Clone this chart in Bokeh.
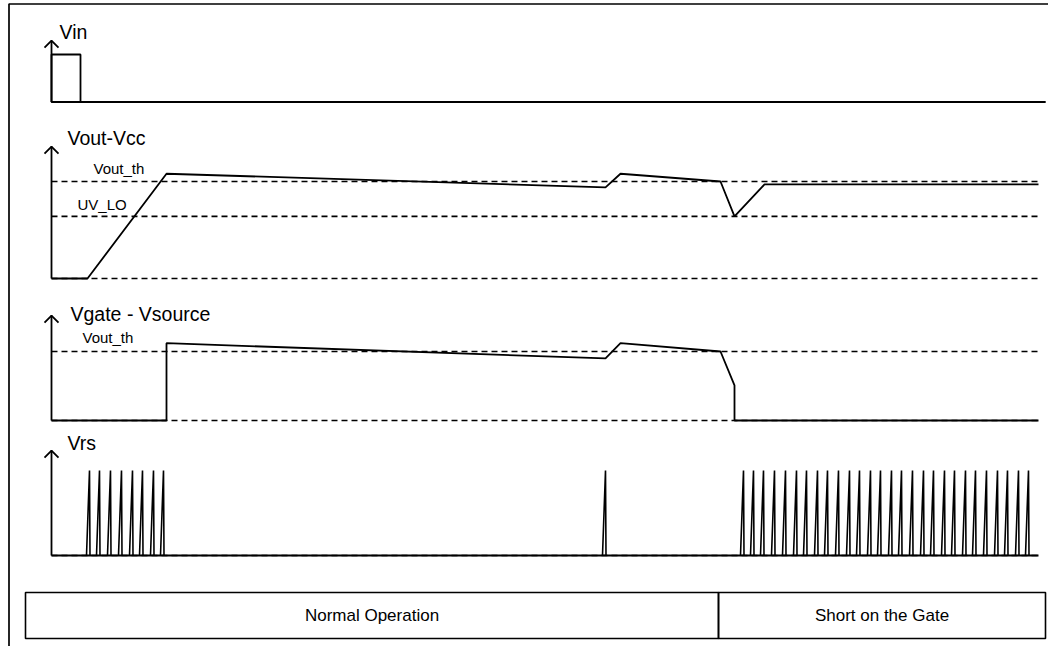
from bokeh.plotting import figure
from bokeh.models import Range1d
from bokeh.core.properties import value
from bokeh.embed import file_html
from bokeh.resources import INLINE

# ---------------- data (time units; levels relative to each panel's threshold) ----------------
vin_t = [29, 0, 0, 29, 29, 994]
vin_v = [0, 0, 1, 1, 0, 0]

vout_t = [0, 36, 115, 554, 569, 669, 683, 713, 987]
vout_v = [0, 0, 1.08, 0.94, 1.08, 1.0, 0.64, 0.97, 0.97]
vout_levels = [0, 0.64, 1.0]

vgate_t = [0, 115, 115, 554, 569, 669, 683, 683, 987]
vgate_v = [0, 0, 1.12, 0.90, 1.12, 1.0, 0.51, 0, 0]
vgate_levels = [0, 1.0]

vrs_spikes = [38, 48, 59, 70, 81, 91, 102, 112,
              554,
              692, 702, 712, 723, 734, 745, 755, 766, 776, 787, 798, 808,
              819, 829, 840, 850, 861, 872, 882, 893, 903, 914, 924, 935,
              946, 956, 967, 977]
vrs_peak = 1.0
t_end = 987

signal_names = ["Vin", "Vout-Vcc", "Vgate - Vsource", "Vrs"]
level_labels = ["Vout_th", "UV_LO", "Vout_th"]

phases = ["Normal Operation", "Short on the Gate"]
phase_start = [-26, 667]
phase_end = [667, 994]

# ---------------- layout ----------------
W, H = 1048, 646
OFF = 0            # observed page offset of the figure
X0 = 51            # pixel of t = 0
# panel: (baseline pixel, pixels per unit, arrow top in units)
PANELS = {
    "vin": (101.5, 47.5, 1.29),
    "vout": (278, 97, 1.36),
    "vgate": (420, 69, 1.52),
    "vrs": (555, 85, 1.235),
}

p = figure(width=W, height=H, output_backend="svg", toolbar_location=None,
           x_axis_type=None, y_axis_type=None, min_border=0,
           x_range=Range1d(OFF - X0, OFF + W - X0),
           y_range=Range1d(OFF + H, OFF))
p.outline_line_color = None
p.background_fill_color = "white"
p.grid.visible = False

for k, (b, s, top) in PANELS.items():
    p.extra_y_ranges[k] = Range1d((b - (OFF + H)) / s, (b - OFF) / s)

LW = 1.8
DASH = "6 4"

def arrow(k):
    b, s, top = PANELS[k]
    p.line([0, 0], [0, top], y_range_name=k, line_color="black", line_width=LW)
    hw = 7.0
    hh = 7.0 / s
    p.line([-hw, 0, hw], [top - hh, top, top - hh], y_range_name=k,
           line_color="black", line_width=LW)

def dashed(k, levels, end):
    for lv in levels:
        p.line([0, end], [lv, lv], y_range_name=k, line_color="black",
               line_width=1.7, line_dash=DASH)

# Vin
arrow("vin")
dashed("vin", [0], 994)
p.line(vin_t, vin_v, y_range_name="vin", line_color="black", line_width=LW)

# Vout-Vcc
arrow("vout")
dashed("vout", vout_levels, t_end)
p.line(vout_t, vout_v, y_range_name="vout", line_color="black", line_width=LW)

# Vgate - Vsource
arrow("vgate")
dashed("vgate", vgate_levels, t_end)
p.line(vgate_t, vgate_v, y_range_name="vgate", line_color="black", line_width=LW)

# Vrs
arrow("vrs")
dashed("vrs", [0], t_end)
p.line([0, t_end], [0, 0], y_range_name="vrs", line_color="black", line_width=LW)
p.multi_line(xs=[[t - 3, t, t + 0.5] for t in vrs_spikes],
             ys=[[0, vrs_peak, 0] for _ in vrs_spikes],
             y_range_name="vrs", line_color="black", line_width=1.6)

FONT = value("Liberation Sans")

# signal titles (pixel positions)
p.text(x=[8, 16, 19, 16], y=[31, 137, 313, 442], text=signal_names,
       text_font=FONT, text_font_size="19.5px", text_color="black",
       text_baseline="middle", text_align="left")

# level labels
p.text(x=[42, 26, 31], y=[168, 204, 337], text=level_labels,
       text_font=FONT, text_font_size="15px", text_color="black",
       text_baseline="middle", text_align="left")

# phase table
p.quad(left=phase_start, right=phase_end, top=[592] * 2, bottom=[638] * 2,
       fill_color=None, line_color="black", line_width=1.6)
p.text(x=[(a + b) / 2 for a, b in zip(phase_start, phase_end)], y=[615] * 2,
       text=phases, text_font=FONT, text_font_size="17px", text_color="black",
       text_baseline="middle", text_align="center")

# frame (top and left edges)
p.line([OFF + W - X0, 8.5 - X0, 8.5 - X0], [3.5, 3.5, OFF + H],
       line_color="black", line_width=1.7)

open("out.html", "w").write(file_html(p, INLINE))
